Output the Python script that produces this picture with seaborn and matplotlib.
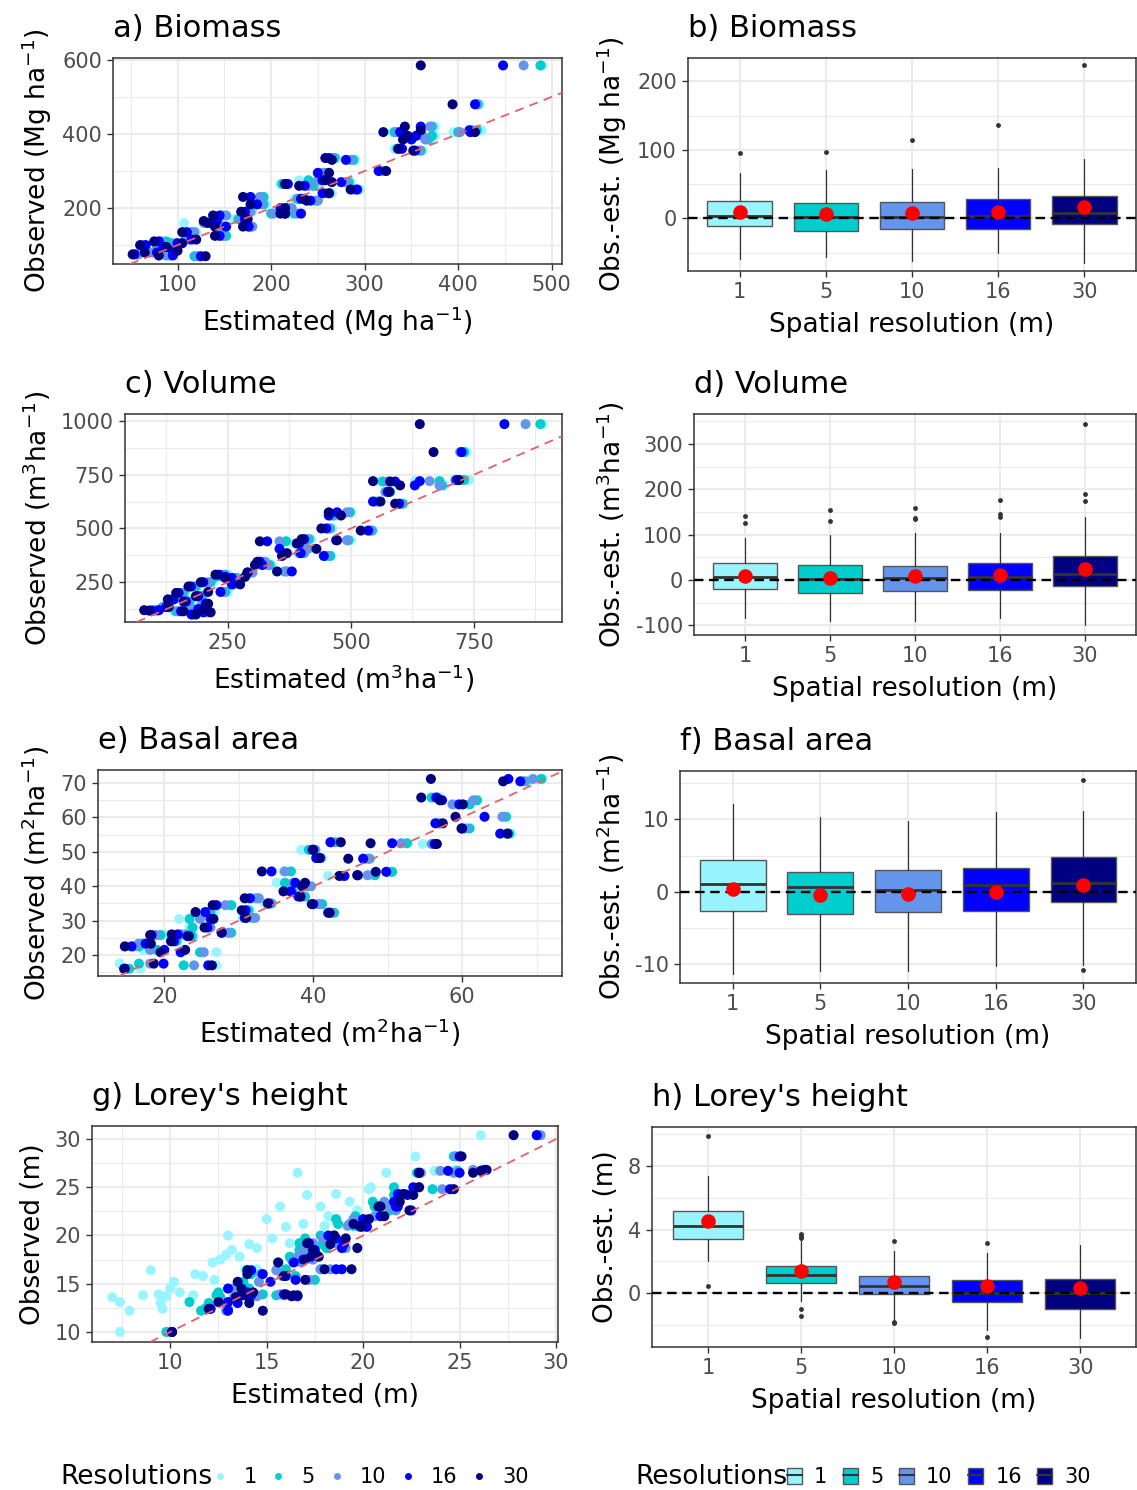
import pandas as pd
import matplotlib
matplotlib.use("Agg")
import matplotlib.pyplot as plt
import seaborn as sns
from matplotlib.lines import Line2D
from matplotlib.patches import Patch
from matplotlib.ticker import MultipleLocator, FixedLocator

resolutions = [1, 5, 10, 16, 30]
res_colors = ["#98F5FF", "#00CDCD", "#6495ED", "#0000FF", "#000080"]

# ---- a) biomass: observed vs estimated per resolution (Mg/ha)
bio_obs = [75, 80, 85, 95, 100, 105, 110, 70, 72, 115, 135, 160, 165, 150, 180, 125, 190, 230, 210, 170,
           150, 185, 200, 225, 185, 265, 260, 220, 295, 335, 330, 270, 250, 240, 300, 355, 360, 405, 420, 385,
           405, 410, 480, 585, 395, 275]
bio_est_1 = [55, 72, 90, 80, 60, 95, 85, 120, 90, 110, 120, 107, 135, 145, 150, 150, 180, 190, 195, 160,
             175, 205, 215, 225, 220, 210, 250, 245, 260, 270, 290, 285, 295, 265, 318, 362, 332, 330, 375, 370,
             395, 425, 423, 490, 375, 230]
bio_est_5 = [57, 70, 88, 82, 62, 93, 88, 118, 92, 112, 115, 130, 138, 148, 148, 152, 175, 192, 192, 165,
             178, 200, 218, 228, 225, 212, 245, 248, 258, 268, 288, 283, 290, 262, 316, 360, 335, 332, 372, 368,
             400, 420, 421, 488, 372, 240]
bio_est_10 = [58, 74, 92, 78, 64, 98, 82, 122, 88, 108, 118, 128, 140, 150, 152, 148, 178, 188, 190, 168,
              180, 202, 222, 230, 228, 215, 240, 250, 255, 266, 285, 280, 288, 258, 320, 358, 338, 335, 370, 365,
              402, 415, 420, 470, 362, 250]
bio_est_16 = [54, 78, 95, 85, 66, 100, 80, 125, 95, 115, 110, 135, 142, 152, 145, 145, 172, 178, 185, 172,
              176, 215, 210, 232, 232, 218, 236, 242, 250, 262, 280, 275, 292, 255, 315, 354, 340, 338, 360, 350,
              413, 412, 418, 448, 355, 255]
bio_est_30 = [52, 65, 100, 88, 60, 105, 75, 130, 80, 120, 105, 132, 128, 140, 138, 140, 168, 170, 178, 175,
              170, 210, 215, 235, 215, 215, 230, 238, 262, 258, 265, 265, 285, 262, 323, 352, 336, 320, 343, 341,
              418, 360, 394, 360, 346, 258]

# ---- c) volume (m3/ha)
vol_obs = [985, 855, 725, 720, 718, 700, 670, 625, 615, 575, 560, 500, 490, 445, 440, 450, 430, 405, 385, 372,
           345, 300, 330, 295, 285, 270, 275, 250, 240, 230, 205, 200, 185, 170, 160, 150, 135, 120, 115, 110,
           125, 100, 118]
vol_est_1 = [890, 735, 740, 630, 560, 690, 575, 560, 608, 500, 470, 462, 545, 500, 370, 420, 385, 415, 400, 460,
             330, 368, 340, 300, 250, 270, 230, 220, 265, 190, 250, 165, 200, 130, 175, 195, 120, 95, 140, 215,
             170, 185, 108]
vol_est_5 = [885, 730, 730, 680, 565, 685, 580, 550, 605, 498, 465, 458, 543, 495, 368, 415, 395, 412, 395, 458,
             320, 370, 335, 295, 245, 268, 225, 215, 260, 185, 245, 160, 198, 135, 172, 198, 118, 100, 145, 210,
             175, 180, 106]
vol_est_10 = [855, 722, 712, 660, 575, 680, 570, 555, 600, 492, 460, 455, 540, 492, 355, 410, 400, 410, 405, 450,
              325, 365, 330, 300, 240, 265, 240, 210, 262, 180, 240, 155, 195, 138, 168, 200, 122, 105, 150, 205,
              180, 178, 100]
vol_est_16 = [812, 725, 715, 640, 590, 630, 575, 545, 598, 472, 455, 450, 535, 470, 330, 405, 395, 355, 398, 445,
              315, 380, 320, 290, 232, 258, 245, 200, 258, 175, 235, 150, 190, 140, 165, 205, 125, 110, 155, 200,
              190, 176, 95]
vol_est_30 = [640, 668, 720, 545, 580, 600, 578, 560, 590, 455, 480, 440, 520, 472, 315, 400, 390, 430, 370, 360,
              310, 350, 305, 290, 225, 245, 285, 195, 275, 170, 210, 145, 185, 128, 160, 210, 130, 80, 160, 215,
              200, 185, 90]

# ---- e) basal area (m2/ha)
ba_obs = [71.2, 70.5, 65.8, 65.0, 63.8, 60.2, 58.3, 56.8, 55.3, 52.3, 52.5, 52.8, 50.6, 48.2, 48.0, 44.3, 44.2,
          43.0, 43.2, 41.0, 40.0, 38.5, 37.0, 36.5, 35.0, 34.8, 34.5, 33.0, 32.3, 32.5, 30.5, 30.8, 28.0, 26.5,
          26.0, 25.8, 25.5, 24.0, 22.5, 23.3, 20.8, 21.5, 17.5, 17.0, 16.0]
ba_est_1 = [70.8, 68.8, 57.0, 61.8, 59.2, 65.6, 56.5, 60.2, 66.6, 54.7, 51.9, 43.5, 38.4, 41.2, 47.0, 36.0, 50.3,
            42.0, 47.8, 35.1, 38.5, 37.5, 38.3, 32.0, 33.5, 40.9, 28.6, 31.5, 42.5, 26.8, 22.0, 30.5, 23.4, 28.3,
            20.1, 18.6, 24.0, 21.8, 14.8, 16.5, 27.0, 17.2, 14.0, 27.0, 16.8]
ba_est_5 = [70.6, 68.5, 55.9, 62.0, 61.0, 65.9, 56.8, 61.0, 66.3, 56.1, 52.6, 43.0, 39.4, 40.8, 47.6, 37.0, 50.6,
            44.0, 48.3, 36.2, 39.3, 37.2, 38.9, 32.4, 34.4, 41.2, 29.0, 31.3, 42.8, 26.2, 23.4, 31.8, 23.8, 29.0,
            22.9, 19.5, 23.7, 21.6, 16.6, 17.0, 24.8, 19.0, 16.6, 22.6, 15.3]
ba_est_10 = [69.5, 68.2, 56.7, 61.5, 58.7, 65.4, 57.0, 60.5, 66.0, 55.9, 51.8, 42.5, 40.3, 41.0, 47.4, 36.2, 49.9,
             43.8, 47.3, 37.3, 39.7, 36.8, 38.5, 32.7, 34.2, 40.7, 28.2, 31.0, 42.4, 25.8, 24.8, 32.2, 26.2, 28.6,
             22.3, 18.9, 23.3, 21.2, 15.9, 16.6, 25.3, 18.1, 18.1, 24.0, 14.8]
ba_est_16 = [66.2, 67.8, 56.5, 57.3, 59.6, 63.0, 56.4, 60.0, 65.1, 56.3, 50.6, 42.3, 39.9, 40.4, 46.7, 34.4, 49.8,
             44.2, 46.0, 37.6, 38.6, 37.0, 38.0, 31.5, 34.0, 40.0, 27.0, 30.9, 42.0, 25.5, 26.2, 30.8, 25.8, 27.7,
             21.8, 18.3, 23.1, 21.3, 15.6, 17.5, 22.2, 20.0, 19.9, 25.9, 14.6]
ba_est_30 = [55.8, 65.5, 54.5, 57.0, 60.1, 59.1, 57.4, 59.9, 66.1, 56.6, 47.7, 43.7, 40.0, 40.9, 44.7, 33.1, 48.4,
             43.5, 45.9, 38.9, 38.5, 36.0, 38.3, 30.8, 33.9, 39.8, 26.5, 30.4, 42.2, 24.2, 26.6, 31.0, 25.4, 27.7,
             21.0, 18.1, 23.3, 20.9, 14.7, 18.2, 19.5, 22.8, 18.6, 26.4, 14.7]

# ---- g) Lorey's height (m)
lh_obs = [10.0, 12.2, 13.1, 13.6, 13.8, 12.4, 13.0, 13.7, 13.9, 14.5, 15.2, 16.4, 14.1, 16.0, 15.8, 17.2, 17.5,
          18.0, 20.0, 18.5, 17.8, 19.1, 18.7, 21.7, 19.7, 23.0, 19.2, 26.5, 24.2, 21.2, 23.0, 21.0, 24.3, 23.5,
          22.6, 24.8, 26.5, 28.2, 26.7, 25.0, 30.4, 26.8, 16.5, 16.5, 13.8, 20.9, 15.4, 22.0]
lh_est_1 = [7.4, 7.9, 7.4, 7.0, 8.6, 9.6, 9.5, 9.8, 9.4, 10.0, 10.2, 9.0, 10.5, 11.3, 11.7, 12.2, 12.6,
            12.9, 13.0, 13.2, 13.6, 14.1, 14.5, 15.0, 15.3, 15.7, 16.2, 16.6, 17.1, 16.9, 17.8, 18.0, 18.6, 19.3,
            19.7, 20.3, 21.2, 22.7, 23.7, 20.4, 26.1, 24.8, 13.9, 14.5, 11.2, 16.0, 12.3, 18.2]
lh_est_5 = [9.8, 11.6, 11.0, 12.6, 12.4, 11.8, 12.0, 14.3, 14.8, 14.1, 13.8, 14.0, 12.5, 14.2, 16.5, 15.6, 16.3,
            17.1, 17.8, 16.7, 16.2, 17.9, 18.1, 18.6, 17.0, 20.6, 16.7, 22.8, 21.6, 18.7, 20.8, 19.5, 21.9, 20.5,
            21.4, 23.6, 22.8, 24.7, 24.9, 21.6, 29.0, 26.2, 16.0, 17.8, 15.5, 19.8, 17.5, 19.6]
lh_est_10 = [10.0, 12.9, 12.7, 13.3, 14.5, 13.0, 12.9, 14.5, 15.7, 13.3, 14.6, 15.5, 13.6, 14.7, 15.8, 16.8, 17.4,
             17.6, 18.5, 16.9, 16.6, 18.7, 19.1, 19.5, 17.9, 21.6, 17.4, 23.0, 22.0, 19.3, 21.3, 19.2, 22.2, 21.1,
             21.7, 24.1, 24.7, 24.8, 24.0, 22.9, 29.2, 25.7, 17.8, 18.3, 15.9, 20.1, 17.2, 20.6]
lh_est_16 = [10.1, 13.0, 13.0, 13.5, 14.2, 12.1, 13.5, 16.6, 15.9, 13.0, 15.2, 14.2, 14.0, 14.8, 16.0, 16.4, 16.9,
             17.5, 18.2, 17.5, 17.3, 19.0, 18.9, 20.0, 18.6, 21.8, 17.2, 22.9, 22.3, 20.0, 21.7, 19.8, 21.8, 21.6,
             22.5, 24.5, 25.0, 25.0, 24.4, 22.6, 29.0, 26.3, 18.6, 18.9, 16.4, 20.2, 16.5, 20.9]
lh_est_30 = [10.1, 14.8, 12.5, 13.4, 13.8, 12.0, 14.1, 16.3, 16.0, 13.7, 13.5, 14.0, 14.3, 14.0, 15.9, 15.6, 17.0,
             17.4, 18.5, 17.4, 17.7, 18.3, 19.7, 20.3, 19.1, 20.8, 17.1, 22.9, 22.6, 19.5, 20.9, 19.9, 22.1, 21.9,
             22.4, 24.7, 25.7, 25.1, 26.1, 22.9, 27.8, 26.4, 19.4, 18.0, 16.6, 19.9, 17.0, 21.1]

# ---- residual (obs - est) box summaries per resolution
bio_q1 = [-12, -18, -15, -15, -9]
bio_med = [4, 1.5, 1.5, 3.5, 7]
bio_q3 = [25, 23, 24, 28, 33]
bio_lo = [-59, -57, -63, -51, -65]
bio_hi = [66, 71, 72, 73, 86]
bio_mean = [9, 6, 7, 9, 16]
bio_fliers = [[95], [97], [114], [136], [224]]

vol_q1 = [-19, -29, -24, -21, -12]
vol_med = [6, 2, 4, 7, 14]
vol_q3 = [38, 34, 31, 37, 52]
vol_lo = [-83, -90, -90, -83, -99]
vol_hi = [92, 100, 103, 104, 139]
vol_mean = [10, 5, 9, 12, 24]
vol_fliers = [[126, 142], [131, 155], [134, 137, 158], [140, 145, 176], [175, 189, 345]]

ba_q1 = [-2.6, -3.0, -2.8, -2.7, -1.4]
ba_med = [1.05, 0.7, 0.3, 0.9, 1.25]
ba_q3 = [4.4, 2.75, 3.0, 3.3, 4.75]
ba_lo = [-11.4, -10.9, -10.9, -10.2, -10.1]
ba_hi = [12.2, 10.3, 9.8, 11.0, 11.2]
ba_mean = [0.45, -0.45, -0.3, 0.0, 0.95]
ba_fliers = [[], [], [], [], [15.4, -10.85]]

lh_q1 = [3.41, 0.65, -0.06, -0.59, -1.01]
lh_med = [4.21, 1.14, 0.44, 0.0, 0.0]
lh_q3 = [5.14, 1.71, 1.05, 0.82, 0.88]
lh_lo = [2.0, -0.53, -1.75, -2.3, -2.82]
lh_hi = [7.35, 3.3, 2.63, 2.55, 3.03]
lh_mean = [4.53, 1.39, 0.69, 0.44, 0.29]
lh_fliers = [[9.9, 0.46], [3.45, 3.6, 3.75, -1.0, -1.43], [3.26, -1.8, -1.9], [3.18, -2.74], []]

sns.set_theme(style="whitegrid")
plt.rcParams["font.family"] = ["DejaVu Sans"]
plt.rcParams["axes.unicode_minus"] = False
plt.rcParams["text.color"] = "black"
plt.rcParams["axes.labelcolor"] = "black"
plt.rcParams["axes.titlecolor"] = "black"

W, H = 1137, 1490
fig = plt.figure(figsize=(W / 100, H / 100), dpi=100)

GRID = "#EBEBEB"
DARK = "#333333"
TICK = "#4D4D4D"
ONE_TO_ONE = "#E5606B"


def px_axes(left, right, top, bottom):
    return fig.add_axes([left / W, 1 - bottom / H, (right - left) / W, (bottom - top) / H])


def style(ax, title, xlabel, ylabel):
    ax.set_facecolor("white")
    for sp in ax.spines.values():
        sp.set_visible(True)
        sp.set_color(DARK)
        sp.set_linewidth(1.1)
    ax.set_axisbelow(True)
    ax.grid(which="major", color=GRID, lw=1.5)
    ax.grid(which="minor", color=GRID, lw=0.8)
    ax.tick_params(which="major", direction="out", length=4, width=1, color=DARK,
                   labelcolor=TICK, labelsize=15, bottom=True, left=True, pad=4)
    ax.tick_params(which="minor", length=0)
    ax.set_title(title, loc="left", fontsize=22, pad=15)
    ax.set_xlabel(xlabel, fontsize=19, labelpad=7)
    ax.set_ylabel(ylabel, fontsize=19, labelpad=6)


def scatter_panel(box, obs, ests, xlim, ylim, xmaj, ymaj, xstep, ystep, title, xlabel, ylabel):
    ax = px_axes(*box)
    df = pd.concat([pd.DataFrame({"obs": obs, "est": e, "res": r}) for r, e in zip(resolutions, ests)])
    sns.scatterplot(data=df, x="est", y="obs", hue="res", palette=dict(zip(resolutions, res_colors)),
                    s=52, linewidth=0, legend=False, ax=ax, zorder=2)
    ax.axline((0, 0), slope=1, color=ONE_TO_ONE, lw=1.3, ls=(0, (5, 3.5)), zorder=3)
    ax.set_xlim(xlim)
    ax.set_ylim(ylim)
    ax.xaxis.set_major_locator(FixedLocator(xmaj))
    ax.yaxis.set_major_locator(FixedLocator(ymaj))
    ax.xaxis.set_minor_locator(MultipleLocator(xstep))
    ax.yaxis.set_minor_locator(MultipleLocator(ystep))
    style(ax, title, xlabel, ylabel)
    return ax


def box_panel(box, q1, med, q3, lo, hi, means, fliers, ylim, ymaj, ystep, title, ylabel):
    ax = px_axes(*box)
    stats = [dict(q1=a, med=m, q3=b, whislo=l, whishi=h, fliers=f)
             for a, m, b, l, h, f in zip(q1, med, q3, lo, hi, fliers)]
    bp = ax.bxp(stats, positions=range(5), widths=0.75, patch_artist=True, showcaps=False,
                boxprops=dict(edgecolor="#555555", lw=1.0),
                medianprops=dict(color=DARK, lw=2.0),
                whiskerprops=dict(color=DARK, lw=0.9),
                flierprops=dict(marker="o", markersize=3.5, markerfacecolor=DARK, markeredgecolor="none"))
    for patch, c in zip(bp["boxes"], res_colors):
        patch.set_facecolor(c)
    ax.axhline(0, color="black", lw=1.7, ls=(0, (4, 2.4)), zorder=4)
    sns.scatterplot(x=list(range(5)), y=means, color="red", s=110, linewidth=0, ax=ax, zorder=5)
    ax.set_xlim(-0.6, 4.6)
    ax.set_ylim(ylim)
    ax.set_xticks(range(5))
    ax.set_xticklabels([str(r) for r in resolutions])
    ax.yaxis.set_major_locator(FixedLocator(ymaj))
    ax.yaxis.set_minor_locator(MultipleLocator(ystep))
    style(ax, title, "Spatial resolution (m)", ylabel)
    return ax


scatter_panel((113, 562, 58, 264), bio_obs, [bio_est_1, bio_est_5, bio_est_10, bio_est_16, bio_est_30],
              (31, 511), (49, 605), [100, 200, 300, 400, 500], [200, 400, 600], 50, 100,
              "a) Biomass", r"Estimated (Mg ha$^{-1}$)", r"Observed (Mg ha$^{-1}$)")
box_panel((688, 1136, 58, 271), bio_q1, bio_med, bio_q3, bio_lo, bio_hi, bio_mean, bio_fliers,
          (-77, 234), [0, 100, 200], 50, "b) Biomass", r"Obs.-est. (Mg ha$^{-1}$)")

scatter_panel((125, 562, 414, 622), vol_obs, [vol_est_1, vol_est_5, vol_est_10, vol_est_16, vol_est_30],
              (41, 929), (65, 1032), [250, 500, 750], [250, 500, 750, 1000], 125, 125,
              "c) Volume", r"Estimated (m$^3$ha$^{-1}$)", r"Observed (m$^3$ha$^{-1}$)")
box_panel((694, 1136, 414, 635), vol_q1, vol_med, vol_q3, vol_lo, vol_hi, vol_mean, vol_fliers,
          (-121, 366), [-100, 0, 100, 200, 300], 50, "d) Volume", r"Obs.-est. (m$^3$ha$^{-1}$)")

scatter_panel((98, 562, 770, 976), ba_obs, [ba_est_1, ba_est_5, ba_est_10, ba_est_16, ba_est_30],
              (11.1, 73.4), (13.9, 73.8), [20, 40, 60], [20, 30, 40, 50, 60, 70], 10, 5,
              "e) Basal area", r"Estimated (m$^2$ha$^{-1}$)", r"Observed (m$^2$ha$^{-1}$)")
box_panel((680, 1136, 771, 983), ba_q1, ba_med, ba_q3, ba_lo, ba_hi, ba_mean, ba_fliers,
          (-12.6, 16.7), [-10, 0, 10], 5, "f) Basal area", r"Obs.-est. (m$^2$ha$^{-1}$)")

scatter_panel((92, 558, 1126, 1342), lh_obs, [lh_est_1, lh_est_5, lh_est_10, lh_est_16, lh_est_30],
              (5.95, 30.1), (8.96, 31.35), [10, 15, 20, 25, 30], [10, 15, 20, 25, 30], 2.5, 2.5,
              "g) Lorey's height", "Estimated (m)", "Observed (m)")
box_panel((652, 1136, 1127, 1347), lh_q1, lh_med, lh_q3, lh_lo, lh_hi, lh_mean, lh_fliers,
          (-3.4, 10.46), [0, 4, 8], 2, "h) Lorey's height", "Obs.-est. (m)")

# bottom legends
ly = 1 - 1477 / H
fig.text(60 / W, ly, "Resolutions", fontsize=19, va="center", ha="left")
pt_handles = [Line2D([], [], marker="o", ls="", markersize=5, markerfacecolor=c, markeredgewidth=0)
              for c in res_colors]
fig.legend(pt_handles, [str(r) for r in resolutions], loc="center left", bbox_to_anchor=(210 / W, ly),
           ncol=5, frameon=False, fontsize=15, handlelength=1.0, handletextpad=0.6, columnspacing=0.55,
           borderpad=0, borderaxespad=0)

fig.text(635 / W, ly, "Resolutions", fontsize=19, va="center", ha="left")
box_handles = [(Patch(facecolor=c, edgecolor="#555555", lw=1.0), Line2D([], [], color=DARK, lw=1.5))
               for c in res_colors]
fig.legend(box_handles, [str(r) for r in resolutions], loc="center left", bbox_to_anchor=(787 / W, ly),
           ncol=5, frameon=False, fontsize=15, handlelength=0.7, handleheight=0.8, handletextpad=0.6,
           columnspacing=0.75, borderpad=0, borderaxespad=0)

fig.savefig("out.png", dpi=100)
